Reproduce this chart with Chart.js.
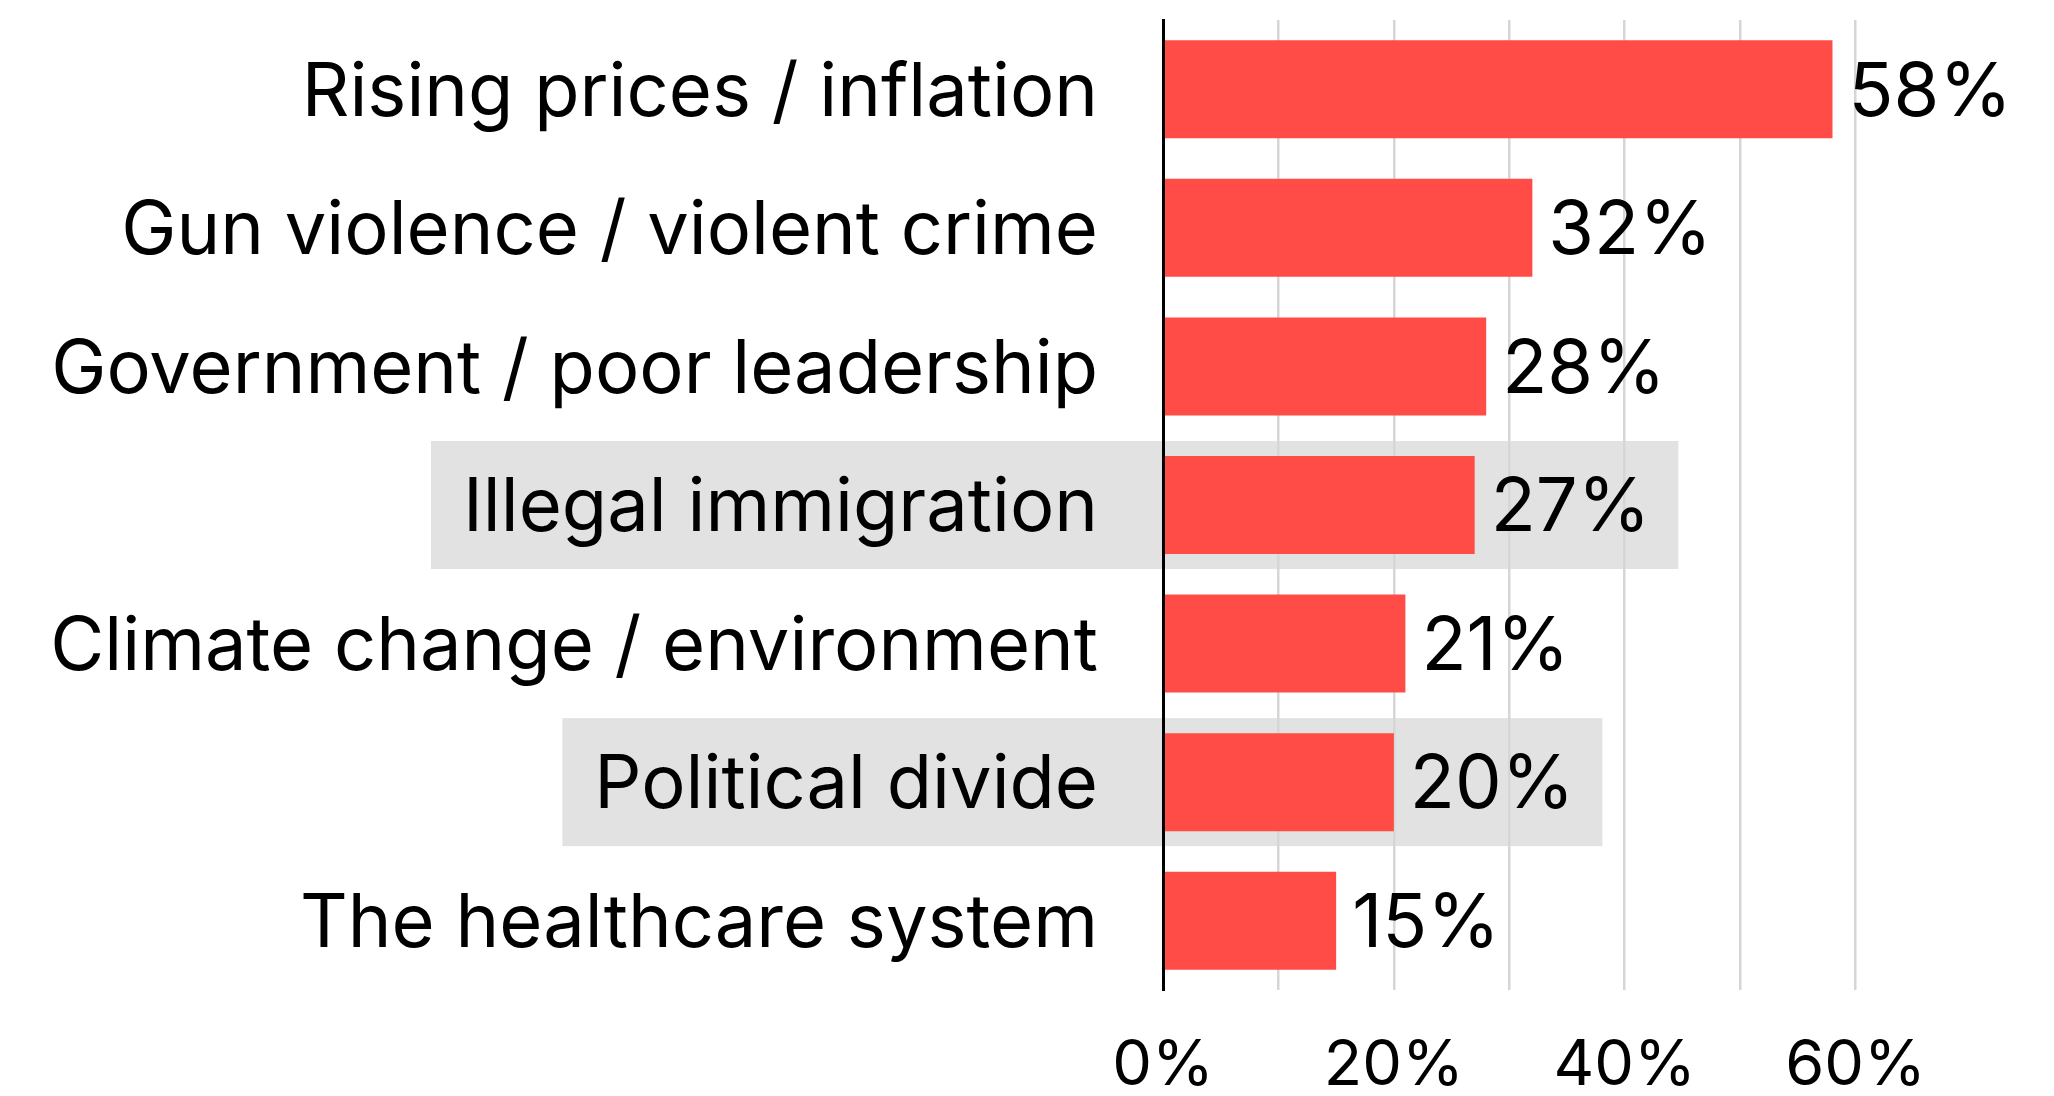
<!DOCTYPE html>
<html>
<head>
<meta charset="utf-8">
<title>Top concerns</title>
<script src="https://cdn.jsdelivr.net/npm/chart.js@4"></script>
<style>
  html, body { margin: 0; padding: 0; background: #fff; }
  #wrap { width: 2054px; height: 1096px; }
</style>
</head>
<body>
<div id="wrap"><canvas id="chart" width="2054" height="1096"></canvas></div>
<script>
// Chart data
const categories = [
    'Rising prices / inflation',
    'Gun violence / violent crime',
    'Government / poor leadership',
    'Illegal immigration',
    'Climate change / environment',
    'Political divide',
    'The healthcare system'
];
const shares = [58, 32, 28, 27, 21, 20, 15];
const highlighted = [3, 5];
const tickValues = [0, 20, 40, 60];

const FONT = 'Inter, "Liberation Sans", Arial, sans-serif';
const LABEL_SIZE = 74;
const TICK_SIZE = 63;
const BAR_COLOR = '#ff4c46';

// Grey band behind highlighted rows
const highlightPlugin = {
    id: 'highlightRows',
    beforeDraw(chart) {
        const ctx = chart.ctx;
        const yScale = chart.scales.y;
        const xScale = chart.scales.x;
        const labelRight = yScale.right - yScale.options.ticks.padding;
        ctx.save();
        ctx.font = LABEL_SIZE + 'px ' + FONT;
        highlighted.forEach(i => {
            const cy = yScale.getPixelForValue(i);
            const labelW = ctx.measureText(categories[i]).width;
            const valueW = ctx.measureText(shares[i] + '%').width;
            const left = labelRight - labelW - 32;
            const right = xScale.getPixelForValue(shares[i]) + 16 + valueW + 28;
            ctx.fillStyle = '#e2e2e2';
            ctx.fillRect(left, cy - 64, right - left, 128);
        });
        ctx.restore();
    }
};

// Value labels at the end of the bars
const valueLabelPlugin = {
    id: 'valueLabels',
    afterDatasetsDraw(chart) {
        const ctx = chart.ctx;
        const meta = chart.getDatasetMeta(0);
        ctx.save();
        ctx.font = LABEL_SIZE + 'px ' + FONT;
        ctx.fillStyle = '#000';
        ctx.textAlign = 'left';
        ctx.textBaseline = 'middle';
        meta.data.forEach((bar, i) => {
            ctx.fillText(shares[i] + '%', bar.x + 16, bar.y + 4);
        });
        ctx.restore();
    }
};

document.addEventListener('DOMContentLoaded', function() {
    const ctx = document.getElementById('chart');
    new Chart(ctx, {
        type: 'bar',
        data: {
            labels: categories,
            datasets: [{
                data: shares,
                backgroundColor: BAR_COLOR,
                borderWidth: 0,
                barPercentage: 0.707,
                categoryPercentage: 1
            }]
        },
        options: {
            indexAxis: 'y',
            responsive: false,
            animation: false,
            devicePixelRatio: 1,
            layout: { padding: { top: 20, right: 83, left: 0, bottom: 0 } },
            plugins: {
                legend: { display: false },
                tooltip: { enabled: false }
            },
            scales: {
                x: {
                    min: 0,
                    max: 70,
                    afterFit: function(scale) {
                        scale.height = 106;
                        scale.paddingLeft = 0;
                        scale.paddingRight = 0;
                    },
                    grid: {
                        drawTicks: false,
                        lineWidth: 2.5,
                        color: function(c) {
                            const v = c.tick ? c.tick.value : 0;
                            return (v > 0 && v <= 60) ? '#d6d6d6' : 'rgba(0,0,0,0)';
                        }
                    },
                    border: { display: false },
                    ticks: {
                        stepSize: 10,
                        autoSkip: false,
                        maxRotation: 0,
                        padding: 38,
                        color: '#000',
                        font: { family: FONT, size: TICK_SIZE, lineHeight: 1.2 },
                        callback: function(value) {
                            return tickValues.includes(value) ? value + '%' : '';
                        }
                    }
                },
                y: {
                    afterFit: function(scale) {
                        scale.width = 1163;
                        scale.paddingTop = 0;
                        scale.paddingBottom = 0;
                    },
                    grid: { display: false, drawTicks: false },
                    border: { display: true, color: '#000', width: 3, z: 1 },
                    ticks: {
                        padding: 65,
                        labelOffset: 4,
                        color: '#000',
                        font: { family: FONT, size: LABEL_SIZE, lineHeight: 1.2 }
                    }
                }
            }
        },
        plugins: [highlightPlugin, valueLabelPlugin]
    });
});
</script>
</body>
</html>
